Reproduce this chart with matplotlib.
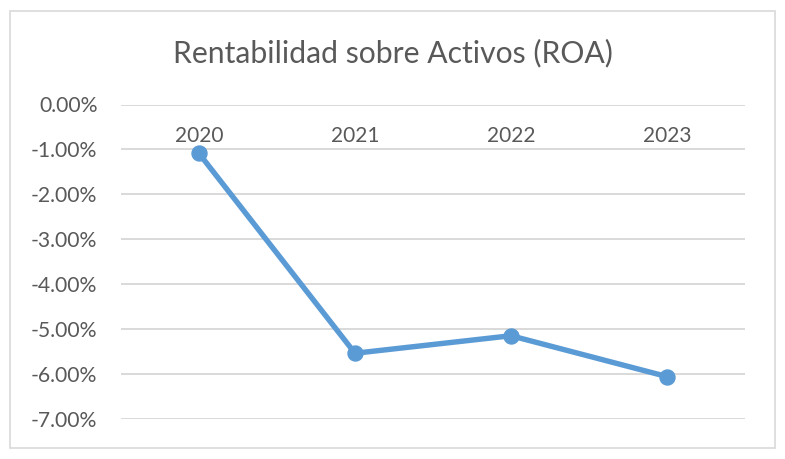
import matplotlib
matplotlib.use("Agg")
import matplotlib.pyplot as plt
import matplotlib.ticker as mticker
from matplotlib.patches import Rectangle

# Datos del gráfico (ROA por año, en fracción)
anios = ["2020", "2021", "2022", "2023"]
roa = [-0.0109, -0.0554, -0.0515, -0.0606]
ticks_y = [0.0, -0.01, -0.02, -0.03, -0.04, -0.05, -0.06, -0.07]

AZUL = "#5B9BD5"
GRIS_TEXTO = "#595959"
GRIS_LINEA = "#D9D9D9"

plt.rcParams["font.family"] = ["Lato", "DejaVu Sans"]

fig = plt.figure(figsize=(7.85, 4.59), dpi=100)
fig.patch.set_facecolor("white")

# marco exterior del gráfico
fig.patches.append(Rectangle((10 / 785, 11 / 459), 765 / 785, 437 / 459,
                             transform=fig.transFigure, fill=False,
                             edgecolor=GRIS_LINEA, linewidth=1.2))

ax = fig.add_axes([121 / 785, 40.2 / 459, 624 / 785, 314.3 / 459])
x = list(range(len(anios)))
ax.plot(x, roa, color=AZUL, linewidth=3.9, marker="o", markersize=10.8,
        solid_capstyle="round", zorder=3)

ax.set_xlim(-0.5, len(anios) - 0.5)
ax.set_ylim(-0.07, 0.0)
ax.set_yticks(ticks_y)
ax.yaxis.set_major_formatter(mticker.FuncFormatter(lambda v, _: f"{v * 100:.2f}%"))
ax.grid(axis="y", color=GRIS_LINEA, linewidth=1.4)
ax.set_axisbelow(True)
ax.set_xticks([])
ax.tick_params(axis="y", length=0, pad=17, labelsize=15.2, labelcolor=GRIS_TEXTO)
for s in ax.spines.values():
    s.set_visible(False)

# etiquetas de categoría debajo del eje en 0
for i, a in enumerate(anios):
    ax.annotate(a, xy=(i, 0), xytext=(0, -23), textcoords="offset points",
                ha="center", va="center", fontsize=15, color=GRIS_TEXTO)

fig.text(0.5, 1 - 62 / 459, "Rentabilidad sobre Activos (ROA)", ha="center",
         va="baseline", fontsize=21.7, color=GRIS_TEXTO)

fig.savefig("out.png", dpi=100)
